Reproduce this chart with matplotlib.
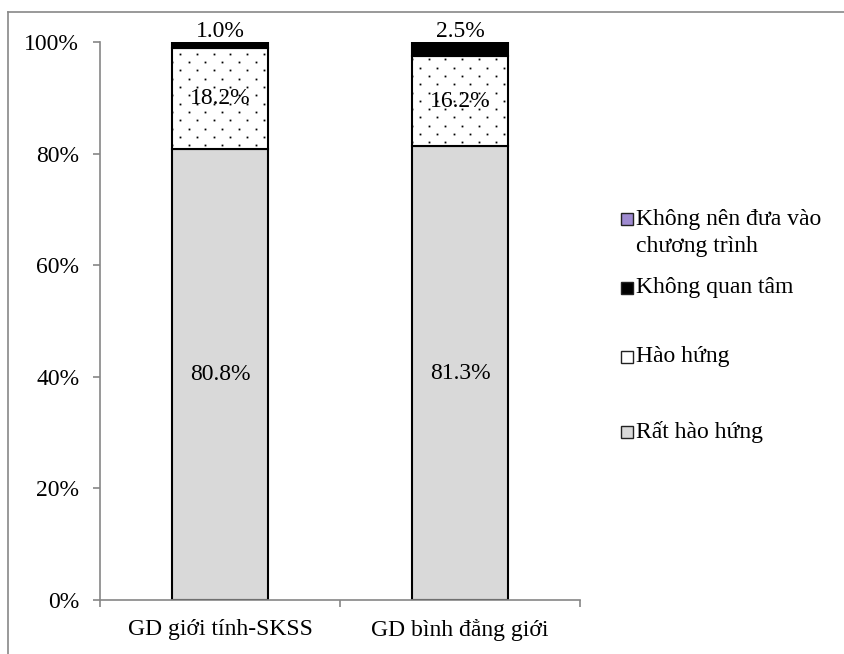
import numpy as np
import matplotlib
matplotlib.use('Agg')
from matplotlib import pyplot as plt
from matplotlib.patches import Rectangle
from matplotlib.lines import Line2D
from matplotlib.ticker import PercentFormatter, FixedLocator

categories = ['GD giới tính-SKSS', 'GD bình đẳng giới']
series_names = ['Rất hào hứng', 'Hào hứng', 'Không quan tâm', 'Không nên đưa vào\nchương trình']
rat_hao_hung = [80.8, 81.3]
hao_hung = [18.2, 16.2]
khong_quan_tam = [1.0, 2.5]
khong_nen = [0.0, 0.0]

plt.rcParams['font.family'] = ['Liberation Serif', 'DejaVu Serif']
plt.rcParams['font.size'] = 17

W, H = 844, 654
fig = plt.figure(figsize=(W / 100, H / 100), dpi=100)
ax = fig.add_axes([100 / W, 1 - 600 / H, 480 / W, 558 / H])

x = np.arange(len(categories))
width = 0.4
series = [rat_hao_hung, hao_hung, khong_quan_tam, khong_nen]
styles = [
    dict(color='#d9d9d9', edgecolor='black'),
    dict(color='white', edgecolor='black'),
    dict(color='black', edgecolor='black'),
    dict(color='#9e8ad0', edgecolor='black'),
]

ax.set_xlim(-0.5, 1.5)
ax.set_ylim(0, 100)

bottom = np.zeros(len(categories))
dotted = None
for k, (vals, st) in enumerate(zip(series, styles)):
    vals = np.array(vals)
    bars = ax.bar(x, vals, width, bottom=bottom, linewidth=1.5, **st)
    if k == 1:
        dotted = bars
    bottom += vals

# dot pattern for "Hào hứng": rows 8.3 px apart, dots 16.7 px apart, staggered
px_x = 2.0 / 480
px_y = 100.0 / 558
for patch in dotted:
    x0, y0 = patch.get_x(), patch.get_y()
    w, h = patch.get_width(), patch.get_height()
    rows = np.arange(y0 + 4 * px_y, y0 + h, 8.3 * px_y)
    dx, dy = [], []
    for r, yy in enumerate(rows):
        start = x0 + (0 if r % 2 == 0 else 8.3 * px_x)
        cols = np.arange(start, x0 + w + 1e-9, 16.7 * px_x)
        dx.extend(cols)
        dy.extend([yy] * len(cols))
    dots, = ax.plot(dx, dy, linestyle='none', marker='s', ms=1.3, color='black',
                    markeredgewidth=0)
    dots.set_clip_path(patch)

# labels for the two big segments sit in the middle, the small ones above the bar
base = np.zeros(len(categories))
for vals in series[:2]:
    for i, v in enumerate(vals):
        ax.text(x[i], base[i] + v / 2, f'{v:.1f}%', ha='center', va='center')
    base += np.array(vals)
for i, v in enumerate(khong_quan_tam):
    ax.text(x[i], 101.8, f'{v:.1f}%', ha='center', va='center', clip_on=False)

ax.yaxis.set_major_locator(FixedLocator([0, 20, 40, 60, 80, 100]))
ax.yaxis.set_major_formatter(PercentFormatter(decimals=0))
ax.set_xticks(x)
ax.set_xticklabels(categories)
ax.set_xticks([-0.5, 0.5, 1.5], minor=True)

axis_gray = '#868686'
for side in ['top', 'right']:
    ax.spines[side].set_visible(False)
for side in ['left', 'bottom']:
    ax.spines[side].set_color(axis_gray)
    ax.spines[side].set_linewidth(1.2)
ax.tick_params(axis='y', direction='out', length=5, width=1.2, color=axis_gray, pad=10)
ax.tick_params(axis='x', which='major', length=0, pad=14)
ax.tick_params(axis='x', which='minor', direction='out', length=5, width=1.2, color=axis_gray)

# legend, drawn top to bottom
legend_rows = [
    (series_names[3], styles[3]['color'], 219),
    (series_names[2], styles[2]['color'], 288),
    (series_names[1], styles[1]['color'], 357),
    (series_names[0], styles[0]['color'], 432),
]
for label, col, yp in legend_rows:
    fig.add_artist(Rectangle((621 / W, 1 - (yp + 6) / H), 12 / W, 12 / H,
                             facecolor=col, edgecolor='#222222', linewidth=1.0,
                             transform=fig.transFigure))
    first, *rest = label.split('\n')
    fig.text(636 / W, 1 - yp / H, first, ha='left', va='center')
    for j, line in enumerate(rest, start=1):
        fig.text(636 / W, 1 - (yp + 28 * j) / H, line, ha='left', va='center')

# outer frame of the chart area
fig.add_artist(Line2D([8 / W, 8 / W], [0, 1 - 12 / H], color='#888888', linewidth=1.2,
                      transform=fig.transFigure))
fig.add_artist(Line2D([8 / W, 1], [1 - 12 / H, 1 - 12 / H], color='#888888', linewidth=1.2,
                      transform=fig.transFigure))

fig.savefig('out.png', dpi=100)
